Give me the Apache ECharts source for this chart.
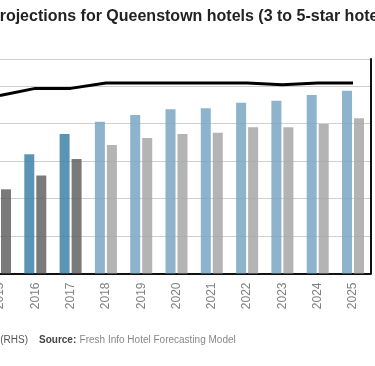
<!DOCTYPE html>
<html>
<head>
<meta charset="utf-8">
<script src="https://cdn.jsdelivr.net/npm/echarts@6/dist/echarts.min.js"></script>
<style>
  html, body { margin: 0; padding: 0; width: 375px; height: 366px; overflow: hidden; background: #fff; }
  #chart { position: absolute; left: -60px; top: 0; width: 485px; height: 366px; }
</style>
</head>
<body>
<div id="chart"></div>
<script>
// Data
const years = ['2015','2016','2017','2018','2019','2020','2021','2022','2023','2024','2025'];
// blue bars (left axis, thousands)
const supply = [560, 636, 744, 810, 845, 876, 881, 911, 922, 952, 975];
// gray bars (left axis, thousands)
const demand = [449, 523, 611, 685, 723, 744, 751, 780, 780, 798, 828];
// black line (right axis, %)
const occupancy = [83.0, 86.3, 86.3, 88.8, 88.8, 88.8, 88.8, 88.8, 88.0, 88.8, 88.8];
// first forecast year index (lighter colours from here)
const forecastFrom = 3;

const titleText = 'Projections for Queenstown hotels (3 to 5-star hotels)';
const legendTail = 'Occupancy (RHS)';
const sourceLabel = 'Source:';
const sourceText = 'Fresh Info Hotel Forecasting Model';

const OX = 60; // container offset (chart is cropped on the left)
const FONT = '"Liberation Sans", Arial, Helvetica, sans-serif';

const blueDark = '#3e83a9', blueLight = '#79a7c3';
const grayDark = '#636363', grayLight = '#a7a7a7';

const chart = echarts.init(document.getElementById('chart'), null, { renderer: 'canvas' });
chart.setOption({
  animation: false,
  textStyle: { fontFamily: FONT },
  grid: { left: OX - 17.65, right: 485 - OX - 370.65, top: 59, bottom: 92.5, containLabel: false },
  xAxis: {
    type: 'category',
    data: years,
    axisLine: { lineStyle: { color: '#111', width: 2 } },
    axisTick: { show: false },
    axisLabel: { rotate: 90, fontSize: 12, color: '#808080', margin: 9, fontFamily: FONT }
  },
  yAxis: [
    {
      type: 'value', min: 0, max: 1144, interval: 200,
      axisLine: { show: false }, axisTick: { show: false },
      axisLabel: { color: '#777', fontSize: 11, formatter: v => (v % 200 === 0 ? v : '') },
      splitLine: { lineStyle: { color: '#cfcfcf', width: 1 } }
    },
    {
      type: 'value', min: 0, max: 100, position: 'right',
      axisLine: { show: true, lineStyle: { color: '#111', width: 2 } },
      axisTick: { show: false },
      axisLabel: { show: false },
      splitLine: { show: false }
    }
  ],
  series: [
    {
      name: 'Supply', type: 'bar', yAxisIndex: 0, barWidth: 10, barGap: '20%',
      data: supply.map((v, i) => ({ value: v, itemStyle: { color: i < forecastFrom ? blueDark : blueLight } })),
      itemStyle: { opacity: 0.85 }
    },
    {
      name: 'Demand', type: 'bar', yAxisIndex: 0, barWidth: 10,
      data: demand.map((v, i) => ({ value: v, itemStyle: { color: i < forecastFrom ? grayDark : grayLight } })),
      itemStyle: { opacity: 0.85 }
    },
    {
      name: 'Occupancy', type: 'line', yAxisIndex: 1, data: occupancy,
      symbol: 'none', lineStyle: { color: '#000', width: 3 }, z: 5
    }
  ],
  graphic: [
    {
      type: 'text', left: OX - 11, top: 9,
      style: { text: titleText, font: 'bold 16px ' + FONT, fill: '#222' }
    },
    {
      type: 'text', x: OX + 28, y: 340,
      style: { text: legendTail, font: '10px ' + FONT, fill: '#555', align: 'right', verticalAlign: 'middle' }
    },
    {
      type: 'text', x: OX + 39, y: 340,
      style: {
        text: '{b|' + sourceLabel + '} {n|' + sourceText + '}',
        verticalAlign: 'middle',
        rich: {
          b: { font: 'bold 10px ' + FONT, fill: '#444' },
          n: { font: '10px ' + FONT, fill: '#888' }
        }
      }
    }
  ]
});
</script>
</body>
</html>
